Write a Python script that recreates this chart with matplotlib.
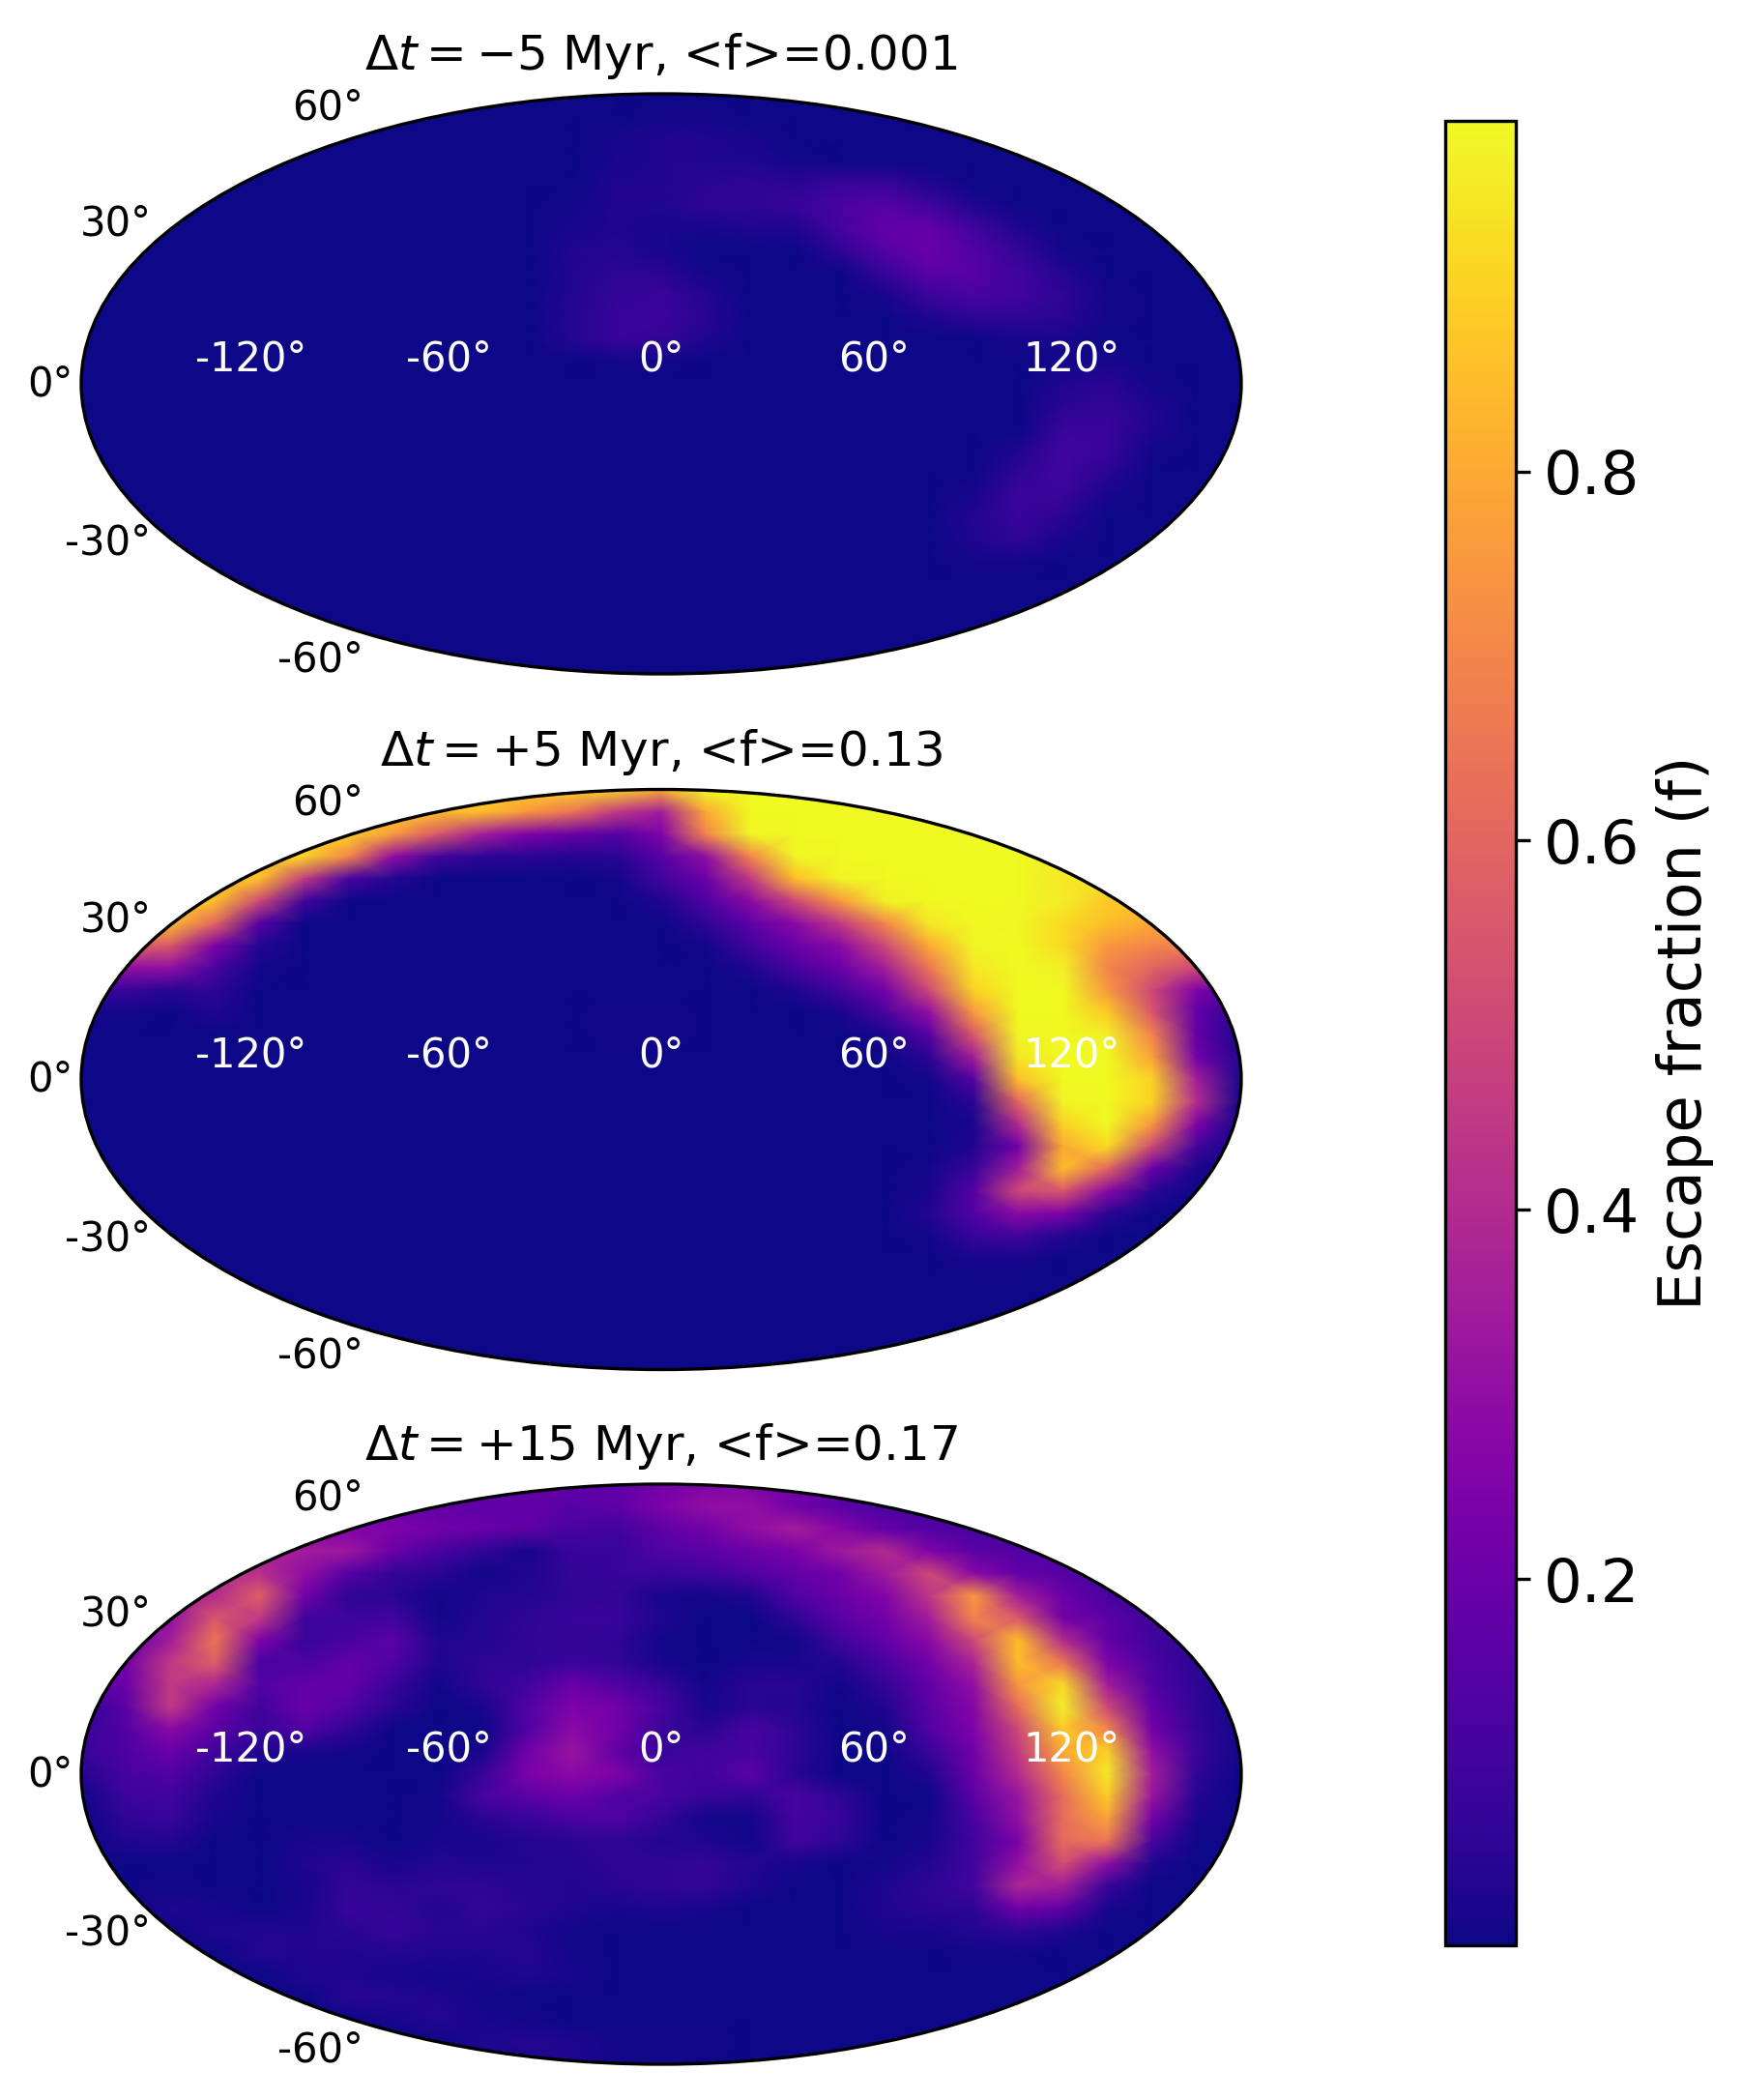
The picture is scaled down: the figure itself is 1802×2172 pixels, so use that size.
import numpy as np
import matplotlib
matplotlib.use("Agg")
import matplotlib.pyplot as plt

# escape fraction in percent on a regular 27 x 27 lattice
# over each map's bounding box, first row = top of the map
f_minus5 = [
    [0,0,0,0,0,0,0,0,0,0,0,0,0,0,0,0,0,0,0,0,0,0,0,0,0,0,0],
    [0,0,0,0,0,0,0,0,0,0,0,0,0,1,1,0,0,0,0,0,0,0,0,0,0,0,0],
    [0,0,0,0,0,0,0,0,0,0,0,0,2,3,3,2,0,0,0,0,0,0,0,0,0,0,0],
    [0,0,0,0,0,0,0,0,0,0,0,0,2,3,3,3,1,0,0,0,0,0,0,0,0,0,0],
    [0,0,0,0,0,0,0,0,0,0,0,0,3,3,5,6,5,8,8,3,0,0,0,0,0,0,0],
    [0,0,0,0,0,0,0,0,0,0,0,1,3,3,6,6,8,12,15,10,3,0,0,0,0,0,0],
    [0,0,0,0,0,0,0,0,0,0,0,2,3,2,2,3,3,11,18,18,10,3,0,0,0,0,0],
    [0,0,0,0,0,0,0,0,0,0,0,3,4,2,0,0,0,6,15,20,14,7,1,0,0,0,0],
    [0,0,0,0,0,0,0,0,0,0,0,3,6,5,1,0,0,0,8,16,15,10,4,0,0,0,0],
    [0,0,0,0,0,0,0,0,0,0,0,4,7,8,4,0,0,0,2,9,12,10,6,1,0,0,0],
    [0,0,0,0,0,0,0,0,0,0,0,4,8,9,5,0,0,0,0,3,6,6,5,1,0,0,0],
    [0,0,0,0,0,0,0,0,0,0,0,4,8,7,3,0,0,0,0,0,0,2,2,0,0,0,0],
    [0,0,0,0,0,0,0,0,0,0,0,0,1,1,0,0,0,0,0,0,0,0,1,2,0,0,0],
    [0,0,0,0,0,0,0,0,0,0,0,0,0,0,0,0,0,0,0,0,0,0,3,5,1,0,0],
    [0,0,0,0,0,0,0,0,0,0,0,0,0,0,0,0,0,0,0,0,0,0,5,7,3,0,0],
    [0,0,0,0,0,0,0,0,0,0,0,0,0,0,0,0,0,0,0,0,0,0,8,8,3,0,0],
    [0,0,0,0,0,0,0,0,0,0,0,0,0,0,0,0,0,0,0,0,0,3,10,8,1,0,0],
    [0,0,0,0,0,0,0,0,0,0,0,0,0,0,0,0,0,0,0,0,0,6,10,5,0,0,0],
    [0,0,0,0,0,0,0,0,0,0,0,0,0,0,0,0,0,0,0,0,2,9,8,2,0,0,0],
    [0,0,0,0,0,0,0,0,0,0,0,0,0,0,0,0,0,0,0,0,4,8,5,0,0,0,0],
    [0,0,0,0,0,0,0,0,0,0,0,0,0,0,0,0,0,0,0,0,3,6,2,0,0,0,0],
    [0,0,0,0,0,0,0,0,0,0,0,0,0,0,0,0,0,0,0,0,1,1,0,0,0,0,0],
    [0,0,0,0,0,0,0,0,0,0,0,0,0,0,0,0,0,0,0,0,0,0,0,0,0,0,0],
    [0,0,0,0,0,0,0,0,0,0,0,0,0,0,0,0,0,0,0,0,0,0,0,0,0,0,0],
    [0,0,0,0,0,0,0,0,0,0,0,0,0,0,0,0,0,0,0,0,0,0,0,0,0,0,0],
    [0,0,0,0,0,0,0,0,0,0,0,0,0,0,0,0,0,0,0,0,0,0,0,0,0,0,0],
    [0,0,0,0,0,0,0,0,0,0,0,0,0,0,0,0,0,0,0,0,0,0,0,0,0,0,0],
]

f_plus5 = [
    [90,90,90,90,90,90,90,90,90,90,90,90,90,80,99,99,99,99,99,99,99,99,99,99,99,99,99],
    [90,90,90,90,90,90,90,90,85,85,75,65,45,35,80,99,99,99,99,99,99,99,99,99,99,99,99],
    [90,90,90,90,90,90,90,75,55,35,25,20,15,25,70,98,99,99,99,99,99,99,99,99,99,99,99],
    [90,90,90,90,90,90,70,30,10,6,5,4,5,15,30,70,98,99,99,99,99,99,97,97,97,97,97],
    [90,90,90,90,85,45,12,4,0,0,0,0,1,10,20,45,85,98,99,99,99,99,95,95,95,95,95],
    [90,90,90,85,50,10,0,0,0,0,0,0,0,3,13,28,50,75,97,99,99,99,96,88,88,88,88],
    [85,85,85,60,15,0,0,0,0,0,0,0,0,0,6,17,28,45,70,95,99,98,92,85,80,80,80],
    [60,60,55,25,4,0,0,0,0,0,0,0,0,0,1,10,20,28,50,80,98,99,92,75,70,70,70],
    [30,30,30,12,1,0,0,0,0,0,0,0,0,0,0,3,12,20,35,65,95,99,97,70,60,50,50],
    [8,8,5,6,0,0,0,0,0,0,0,0,0,0,0,0,3,10,22,50,90,99,99,75,50,25,10],
    [1,1,0,3,0,0,0,0,0,0,0,0,1,1,0,0,0,2,12,30,75,99,99,88,55,18,5],
    [0,0,0,0,0,0,0,0,0,0,0,0,1,1,0,0,0,0,2,15,55,98,99,97,70,18,2],
    [0,0,0,0,0,0,0,0,0,0,0,0,0,0,0,0,0,0,0,5,35,95,99,99,78,22,3],
    [0,0,0,0,0,0,0,0,0,0,0,0,0,0,0,0,0,0,0,1,15,85,99,99,90,35,2],
    [0,0,0,0,0,0,0,0,0,0,0,0,0,0,0,0,0,0,0,0,5,60,98,99,90,40,1],
    [0,0,0,0,0,0,0,0,0,0,0,0,0,0,0,0,0,0,0,0,2,40,90,99,75,25,0],
    [0,0,0,0,0,0,0,0,0,0,0,0,0,0,0,0,0,0,0,0,3,22,80,92,50,10,0],
    [0,0,0,0,0,0,0,0,0,0,0,0,0,0,0,0,0,0,0,1,8,35,85,60,20,2,0],
    [0,0,0,0,0,0,0,0,0,0,0,0,0,0,0,0,0,0,0,2,15,50,55,28,5,0,0],
    [0,0,0,0,0,0,0,0,0,0,0,0,0,0,0,0,0,0,0,4,14,28,25,5,0,0,0],
    [0,0,0,0,0,0,0,0,0,0,0,0,0,0,0,0,0,0,0,1,8,10,4,0,0,0,0],
    [0,0,0,0,0,0,0,0,0,0,0,0,0,0,0,0,0,0,0,0,2,2,0,0,0,0,0],
    [0,0,0,0,0,0,0,0,0,0,0,0,0,0,0,0,0,0,0,0,0,0,0,0,0,0,0],
    [0,0,0,0,0,0,0,0,0,0,0,0,0,0,0,0,0,0,0,0,0,0,0,0,0,0,0],
    [0,0,0,0,0,0,0,0,0,0,0,0,0,0,0,0,0,0,0,0,0,0,0,0,0,0,0],
    [0,0,0,0,0,0,0,0,0,0,0,0,0,0,0,0,0,0,0,0,0,0,0,0,0,0,0],
    [0,0,0,0,0,0,0,0,0,0,0,0,0,0,0,0,0,0,0,0,0,0,0,0,0,0,0],
]

f_plus15 = [
    [18,18,18,18,18,18,18,18,18,18,18,18,18,22,25,25,22,18,14,12,12,12,12,12,12,12,12],
    [18,18,18,18,18,18,18,18,18,17,18,15,17,25,30,30,22,16,12,12,12,12,12,12,12,12,12],
    [25,25,25,25,25,25,25,25,22,20,17,12,10,17,22,30,35,27,18,14,12,12,12,12,12,12,12],
    [35,35,35,35,35,35,33,20,12,6,2,8,8,14,16,20,24,34,40,25,16,14,14,14,14,14,14],
    [42,42,42,42,42,30,15,7,5,1,3,7,8,8,10,14,18,22,34,50,28,18,15,12,12,12,12],
    [40,40,40,40,58,22,6,5,1,3,4,6,7,2,1,3,14,20,26,44,75,35,20,12,7,7,7],
    [30,30,30,55,45,10,9,10,1,4,6,8,8,3,0,0,6,16,22,35,70,55,22,16,10,8,8],
    [18,18,35,65,25,8,12,16,3,4,6,7,6,1,0,0,1,10,18,28,50,85,40,18,10,6,6],
    [22,22,45,58,12,12,18,14,3,6,6,9,7,2,0,2,2,4,12,22,38,85,65,25,12,5,5],
    [20,20,45,38,14,18,18,8,1,6,10,20,14,8,1,5,5,1,7,18,30,75,92,35,14,6,2],
    [5,16,45,22,10,20,14,5,0,2,14,25,22,12,2,5,4,0,3,16,27,62,97,50,18,6,1],
    [8,14,28,16,8,14,6,0,0,0,14,28,22,9,5,12,6,0,1,14,25,50,88,70,22,7,1],
    [8,13,20,10,3,2,1,0,0,2,22,32,18,8,10,12,6,0,0,8,22,45,80,90,30,8,1],
    [4,11,14,6,0,0,0,0,0,8,24,28,25,12,10,16,5,0,0,3,20,40,70,95,35,6,0],
    [1,9,10,3,0,0,0,0,1,12,16,20,14,12,8,6,12,6,0,0,16,32,62,88,32,4,0],
    [0,6,8,2,0,0,0,0,1,5,8,12,14,7,1,1,11,8,0,1,12,30,62,78,22,2,0],
    [0,3,4,0,0,2,2,0,2,2,4,5,6,4,3,1,10,6,0,2,10,24,62,65,12,0,0],
    [0,0,0,0,0,3,5,2,4,3,3,4,6,6,7,4,2,0,1,4,10,30,52,30,3,0,0],
    [0,0,1,0,0,2,7,5,6,6,4,3,5,6,7,3,0,0,3,6,10,38,35,8,0,0,0],
    [0,0,3,2,0,2,8,7,4,7,5,3,2,3,2,0,0,0,3,5,6,22,18,2,0,0,0],
    [0,0,0,3,3,3,5,8,5,5,3,1,0,0,0,0,0,0,2,2,4,6,3,0,0,0,0],
    [0,0,0,0,4,3,3,4,3,3,4,1,0,0,0,0,0,0,0,0,1,1,0,0,0,0,0],
    [0,0,0,0,0,3,3,2,1,2,3,2,0,0,0,0,0,0,0,0,0,0,0,0,0,0,0],
    [0,0,0,0,0,0,5,4,3,1,0,0,0,0,0,0,0,0,0,0,0,0,0,0,0,0,0],
    [0,0,0,0,0,0,0,2,4,2,1,0,0,0,0,0,0,0,0,0,0,0,0,0,0,0,0],
    [0,0,0,0,0,0,0,0,0,3,4,3,1,1,1,0,0,0,0,0,0,0,0,0,0,0,0],
    [0,0,0,0,0,0,0,0,0,2,2,3,1,1,0,0,0,0,0,0,0,0,0,0,0,0,0],
]

titles = [r"$\Delta t = -5$ Myr, <f>=0.001",
          r"$\Delta t = +5$ Myr, <f>=0.13",
          r"$\Delta t = +15$ Myr, <f>=0.17"]
maps = [f_minus5, f_plus5, f_plus15]
cbar_ticks = [0.2, 0.4, 0.6, 0.8]
vmin, vmax = 0.0015, 0.99

W, H = 1802, 2172
fig = plt.figure(figsize=(W / 300, H / 300), dpi=300)

tops = [97, 816.5, 1535]
for top, title, f in zip(tops, titles, maps):
    ax = fig.add_axes([84 / W, 1 - (top + 600) / H, 1200 / W, 600 / H], projection="hammer")
    f = np.array(f) / 100
    x = np.linspace(0, 1, f.shape[1])
    y = np.linspace(1, 0, f.shape[0])
    mesh = ax.pcolormesh(x, y, f, cmap="plasma", vmin=vmin, vmax=vmax,
                         shading="gouraud", transform=ax.transAxes)
    ax.set_longitude_grid(60)
    ax.set_latitude_grid(30)
    ax.grid(False)
    ax.tick_params(axis="x", labelcolor="white", labelsize=10)
    ax.tick_params(axis="y", labelsize=10)
    ax.set_title(title, fontsize=12)

cax = fig.add_axes([1495 / W, 1 - 2012 / H, 73 / W, 1887 / H])
cb = fig.colorbar(mesh, cax=cax)
cb.set_ticks(cbar_ticks)
cb.ax.tick_params(labelsize=15)
cb.set_label("Escape fraction (f)", fontsize=15)

fig.savefig("out.png", dpi=300)
